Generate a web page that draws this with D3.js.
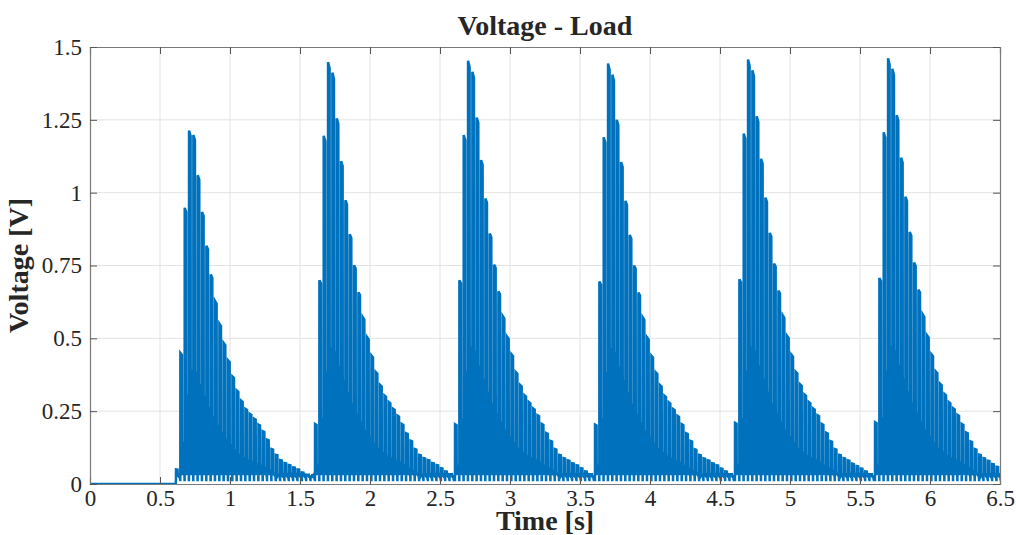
<!DOCTYPE html>
<html>
<head>
<meta charset="utf-8">
<script src="https://d3js.org/d3.v7.min.js"></script>
<style>
  body { margin: 0; background: #fff; }
  text { font-family: "Liberation Serif", "Times New Roman", serif; fill: #262626; }
</style>
</head>
<body>
<div id="chart"></div>
<script>
// peak voltage of each spike in a burst (V)
var burst1 = [0.05, 0.45, 0.948, 1.213, 1.198, 1.06, 0.934, 0.818, 0.719, 0.628, 0.55, 0.484, 0.424, 0.369, 0.321, 0.286,
  0.258, 0.241, 0.224, 0.204, 0.181, 0.152, 0.12, 0.1, 0.082, 0.072, 0.065, 0.057, 0.05, 0.04, 0.032, 0.025];
var burst2 = [0.206, 0.699, 1.195, 1.448, 1.412, 1.255, 1.108, 0.974, 0.857, 0.751, 0.658, 0.573, 0.504, 0.441, 0.384, 0.34,
  0.304, 0.281, 0.258, 0.235, 0.206, 0.174, 0.149, 0.12, 0.1, 0.089, 0.082, 0.072, 0.065, 0.054, 0.043, 0.034];
var burst3 = [0.205, 0.699, 1.198, 1.453, 1.415, 1.258, 1.112, 0.98, 0.86, 0.753, 0.661, 0.576, 0.506, 0.445, 0.384, 0.34,
  0.305, 0.281, 0.259, 0.236, 0.206, 0.175, 0.148, 0.12, 0.1, 0.089, 0.081, 0.071, 0.064, 0.054, 0.043, 0.034];
var burst4 = [0.204, 0.695, 1.19, 1.443, 1.405, 1.25, 1.105, 0.972, 0.855, 0.75, 0.657, 0.572, 0.503, 0.44, 0.383, 0.339,
  0.303, 0.28, 0.257, 0.234, 0.205, 0.174, 0.148, 0.119, 0.1, 0.088, 0.081, 0.071, 0.064, 0.053, 0.043, 0.034];
var burst5 = [0.21, 0.703, 1.203, 1.457, 1.42, 1.262, 1.116, 0.983, 0.862, 0.757, 0.664, 0.579, 0.508, 0.444, 0.385, 0.342,
  0.307, 0.281, 0.259, 0.236, 0.206, 0.176, 0.147, 0.12, 0.1, 0.089, 0.081, 0.07, 0.062, 0.053, 0.043, 0.034];
var burst6 = [0.212, 0.707, 1.207, 1.461, 1.425, 1.266, 1.12, 0.986, 0.865, 0.76, 0.667, 0.582, 0.51, 0.445, 0.386, 0.344,
  0.309, 0.281, 0.26, 0.237, 0.206, 0.177, 0.146, 0.12, 0.101, 0.089, 0.08, 0.069, 0.059];
var bursts = [burst1, burst2, burst3, burst4, burst5, burst6];
var burstStart = [0.614, 1.607, 2.607, 3.607, 4.607, 5.607]; // s
var spikePeriod = 0.031;   // s between spikes
var spikeWidth = 0.0115;   // s, flat top of each spike
var ringLevel = 0.34;      // ringing after each spike, as part of its peak
var valley = 0.03;         // V, bottom of the ringing
var floorV = 0.014;        // V, dip before each spike

var xTicks = [0, 0.5, 1, 1.5, 2, 2.5, 3, 3.5, 4, 4.5, 5, 5.5, 6, 6.5];
var yTicks = [0, 0.25, 0.5, 0.75, 1, 1.25, 1.5];
var yTickLabels = ["0", "0.25", "0.5", "0.75", "1", "1.25", "1.5"];

var W = 1016, H = 535;
var margin = {top: 47, right: 16, bottom: 51, left: 90},
    width = W - margin.left - margin.right,
    height = H - margin.top - margin.bottom;

var x = d3.scaleLinear().domain([0, 6.5]).range([0, width]);
var y = d3.scaleLinear().domain([0, 1.5]).range([height, 0]);

// waveform points: each spike jumps to its peak, holds briefly, then rings down
var pts = [[0, 0], [burstStart[0] - 0.002, 0]];
bursts.forEach(function(b, k) {
  b.forEach(function(p, i) {
    var t = burstStart[k] + i * spikePeriod;
    var r = Math.max(ringLevel * p, valley);
    var e = t + spikeWidth;
    pts.push([t, floorV], [t + 0.0004, p], [e, p * 0.985], [e + 0.0006, r],
      [e + 0.0025, valley], [e + 0.0045, r * 0.95], [e + 0.007, valley], [e + 0.009, r * 0.85],
      [e + 0.0115, valley], [e + 0.0135, r * 0.7], [e + 0.016, valley], [e + 0.018, r * 0.5],
      [t + spikePeriod - 0.0008, floorV]);
  });
});
pts.push([6.6, floorV]);

var svg = d3.select("#chart").append("svg")
    .attr("width", W).attr("height", H)
  .append("g")
    .attr("transform", "translate(" + margin.left + "," + margin.top + ")");

svg.append("defs").append("clipPath").attr("id", "clip")
  .append("rect").attr("width", width).attr("height", height);

// grid
svg.append("g").selectAll("line").data(xTicks.slice(1, -1)).enter().append("line")
    .attr("x1", x).attr("x2", x).attr("y1", 0).attr("y2", height)
    .attr("stroke", "#e3e3e3").attr("stroke-width", 1);
svg.append("g").selectAll("line").data(yTicks.slice(1, -1)).enter().append("line")
    .attr("y1", y).attr("y2", y).attr("x1", 0).attr("x2", width)
    .attr("stroke", "#e3e3e3").attr("stroke-width", 1);

// signal
svg.append("path")
    .datum(pts)
    .attr("clip-path", "url(#clip)")
    .attr("fill", "none")
    .attr("stroke", "#0072BD")
    .attr("stroke-width", 2.5)
    .attr("stroke-linejoin", "miter")
    .attr("d", d3.line().x(function(d) { return x(d[0]); }).y(function(d) { return y(d[1]); }));

// axes, ticks pointing inward on all four sides
var tk = 7;
var xb = svg.append("g").attr("transform", "translate(0," + height + ")")
    .call(d3.axisBottom(x).tickValues(xTicks).tickSize(-tk).tickPadding(6).tickFormat(d3.format("~g")));
var xt = svg.append("g")
    .call(d3.axisTop(x).tickValues(xTicks).tickSize(-tk).tickFormat(""));
var yl = svg.append("g")
    .call(d3.axisLeft(y).tickValues(yTicks).tickSize(-tk).tickPadding(8)
      .tickFormat(function(d, i) { return yTickLabels[i]; }));
var yr = svg.append("g").attr("transform", "translate(" + width + ",0)")
    .call(d3.axisRight(y).tickValues(yTicks).tickSize(-tk).tickFormat(""));

[xb, xt, yl, yr].forEach(function(a) {
  a.select(".domain").attr("stroke", "#7a7a7a").attr("stroke-width", 1.2);
  a.selectAll(".tick line").attr("stroke", "#555");
  a.selectAll("text").style("font-size", "23px").attr("fill", "#262626")
    .style("font-family", "'Liberation Serif', serif");
});

// titles
svg.append("text")
    .attr("x", width / 2).attr("y", -12)
    .attr("text-anchor", "middle")
    .style("font-size", "28px").style("font-weight", "bold")
    .text("Voltage - Load");

svg.append("text")
    .attr("x", width / 2).attr("y", height + 46)
    .attr("text-anchor", "middle")
    .style("font-size", "28px").style("font-weight", "bold")
    .text("Time [s]");

svg.append("text")
    .attr("transform", "translate(" + (-62) + "," + (height / 2) + ") rotate(-90)")
    .attr("text-anchor", "middle")
    .style("font-size", "28px").style("font-weight", "bold")
    .text("Voltage [V]");
</script>
</body>
</html>
